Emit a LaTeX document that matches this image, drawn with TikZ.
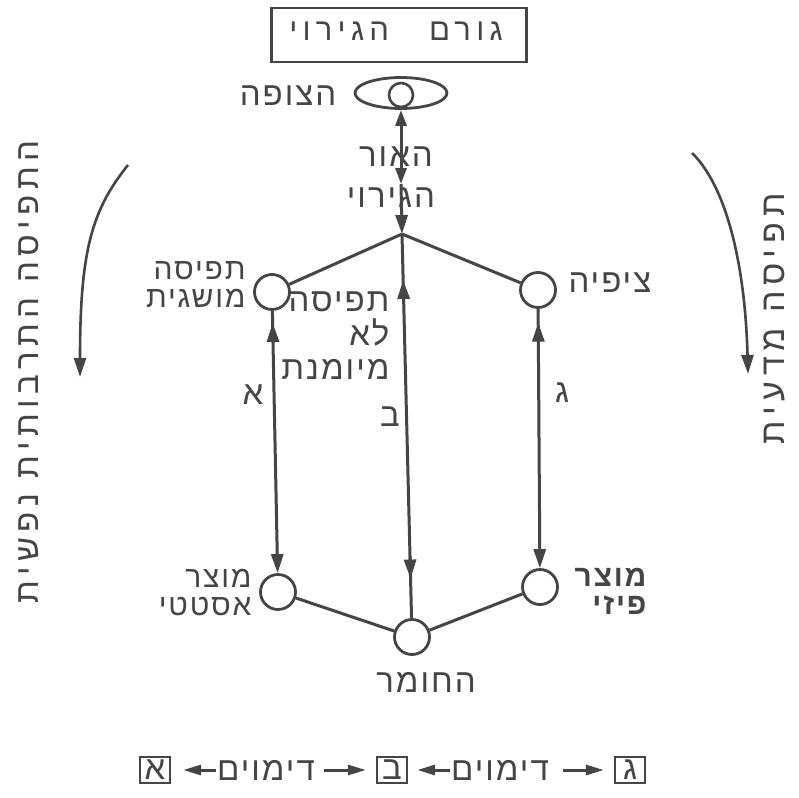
\documentclass[tikz,border=0pt]{standalone}
\usepackage{fontspec}
\TeXXeTstate=1
\newfontfamily\heb[Script=Hebrew,LetterSpace=6]{Liberation Sans}
\newfontfamily\hebwide[Script=Hebrew,LetterSpace=17]{Liberation Sans}
\newcommand\HR[1]{\beginR#1\endR}
\usetikzlibrary{arrows.meta,shapes.geometric,calc}
\definecolor{ink}{HTML}{454545}
\begin{document}
\begin{tikzpicture}[x=1pt,y=-1pt,line width=3pt,draw=ink,
  txt/.style={font=\heb\fontsize{33}{34}\selectfont,text=ink,inner sep=0pt,align=right},
  small/.style={txt,font=\heb\fontsize{30}{28}\selectfont},
  wide/.style={txt,font=\hebwide\fontsize{33}{34}\selectfont},
  dot/.style={circle,draw=ink,line width=2.8pt,minimum size=35pt,inner sep=0pt},
  lbox/.style={draw=ink,line width=2.4pt,minimum width=30pt,minimum height=26pt,inner sep=0pt},
  tipst/.style={-{Triangle[length=19pt,width=12pt]}},
  both/.style={{Triangle[length=16pt,width=11pt]}-{Triangle[length=16pt,width=11pt]}},
  stip/.style={-{Triangle[length=18pt,width=10pt]}}]
\fill[white] (0,0) rectangle (799,797);
\useasboundingbox (0,0) rectangle (799,797);

% title
\node[draw=ink,line width=2.8pt,minimum width=255pt,minimum height=54pt,inner sep=0pt] (title) at (399,35) {};
\node[wide,font=\hebwide\fontsize{31}{31}\selectfont] (titletext) at (396,31) {\HR{גורם\hspace{40pt}הגירוי}};

% eye
\node[ellipse,draw=ink,line width=2.8pt,minimum width=92pt,minimum height=31pt,inner sep=0pt] (eye) at (401,93) {};
\node[circle,draw=ink,line width=2.6pt,minimum size=24pt,inner sep=0pt] (pupil) at (401,95) {};
\node[txt] (viewer) at (288,96) {\HR{הצופה}};

\coordinate (la) at (401,184);
\coordinate (apex) at (402,234);
\node[txt] (light1) at (396,157) {\HR{האור}};
\node[txt] (light2) at (391,198) {\HR{הגירוי}};
\draw[both] (eye.south) -- (la);
\draw[tipst] (la) -- (apex);

% circles
\node[dot] (tl) at (272,292) {};
\node[dot] (tr) at (538,290) {};
\node[dot] (bl) at (278,592) {};
\node[dot] (br) at (540,587) {};
\node[dot] (bm) at (412,637) {};

\draw (apex) -- (tl);
\draw (apex) -- (tr);
\draw (bl) -- (bm) -- (br);
\draw (apex) -- (bm);
\draw[tipst] ($(apex)!0.17!(bm)$) -- ($(apex)!0.114!(bm)$);
\draw[tipst] ($(apex)!0.80!(bm)$) -- ($(apex)!0.855!(bm)$);

\draw[tipst] (tl) -- (bl);
\draw[tipst] ($(tl)!0.17!(bl)$) -- ($(tl)!0.103!(bl)$);
\draw[tipst] (tr) -- (br);
\draw[tipst] ($(tr)!0.17!(br)$) -- ($(tr)!0.11!(br)$);

% labels
\node[small,anchor=east] (concept) at (247,285) {\HR{תפיסה}\\\HR{מושגית}};
\node[txt] (la1) at (253,395) {\HR{א}};
\node[txt] (lb1) at (390,417) {\HR{ב}};
\node[txt] (lc1) at (562,393) {\HR{ג}};
\node[txt,anchor=east] (untrained) at (391,336) {\HR{תפיסה}\\\HR{לא}\\\HR{מיומנת}};
\node[txt,anchor=west] (expect) at (567,283) {\HR{ציפיה}};
\node[small,anchor=east,font=\heb\bfseries\fontsize{30}{28}\selectfont] (phys) at (648,591) {\HR{מוצר}\\\HR{פיזי}};
\node[small,anchor=east] (aesth) at (253,593) {\HR{מוצר}\\\HR{אסטטי}};
\node[txt] (matter) at (426,682) {\HR{החומר}};

% side arcs
\node[wide,rotate=90] (lefttext) at (29,372) {\HR{התפיסה התרבותית נפשית}};
\node[wide,rotate=90,font=\hebwide\fontsize{34}{34}\selectfont] (righttext) at (774,319) {\HR{תפיסה מדעית}};
\coordinate (l0) at (128,165);
\coordinate (l1) at (80,377);
\coordinate (r0) at (692,153);
\coordinate (r1) at (748,374);
\draw[tipst,line width=2.6pt] (l0) .. controls (92,210) and (80,250) .. (l1);
\draw[tipst,line width=2.6pt] (r0) .. controls (725,185) and (745,260) .. (r1);

% bottom row
\node[lbox,txt] (ba) at (155,770) {\HR{א}};
\node[txt] (w1) at (266,770) {\HR{דימוים}};
\node[lbox,txt] (bb) at (392,770) {\HR{ב}};
\node[txt] (w2) at (500,770) {\HR{דימוים}};
\node[lbox,txt] (bc) at (630,770) {\HR{ג}};
\draw[stip,shorten >=12pt] (w1.west) -- (ba.east);
\draw[stip,shorten >=10pt] ([xshift=8pt]w1.east) -- (bb.west);
\draw[stip,shorten >=9pt] (w2.west) -- (bb.east);
\draw[stip,shorten >=10pt] ([xshift=13pt]w2.east) -- (bc.west);
\end{tikzpicture}
\end{document}
